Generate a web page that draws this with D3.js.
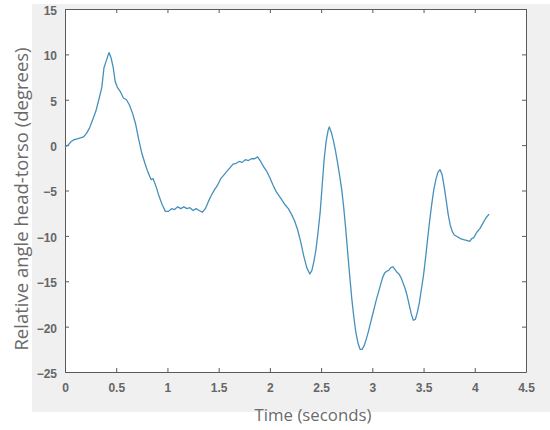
<!DOCTYPE html>
<html>
<head>
<meta charset="utf-8">
<script src="https://cdn.jsdelivr.net/npm/d3@7"></script>
<style>
  html, body { margin: 0; padding: 0; background: #ffffff; }
  svg { display: block; }
</style>
</head>
<body>
<svg id="chart" width="550" height="430"></svg>
<script>
const timeSec = [0.00,0.03,0.06,0.09,0.12,0.15,0.18,0.21,0.24,0.27,0.30,0.33,0.36,0.38,0.40,0.43,0.45,0.47,0.49,0.51,0.54,0.57,0.60,0.63,0.66,0.69,0.72,0.75,0.78,0.81,0.84,0.86,0.89,0.92,0.95,0.98,1.01,1.04,1.07,1.10,1.13,1.16,1.19,1.22,1.25,1.28,1.31,1.34,1.37,1.40,1.43,1.46,1.49,1.52,1.55,1.58,1.61,1.64,1.67,1.70,1.73,1.76,1.79,1.82,1.85,1.88,1.91,1.94,1.97,2.00,2.03,2.06,2.09,2.12,2.15,2.18,2.21,2.24,2.27,2.30,2.33,2.36,2.39,2.41,2.43,2.45,2.47,2.49,2.51,2.53,2.55,2.57,2.58,2.60,2.62,2.64,2.66,2.68,2.70,2.72,2.74,2.76,2.78,2.80,2.82,2.84,2.86,2.88,2.90,2.92,2.94,2.96,2.98,3.00,3.02,3.04,3.06,3.08,3.10,3.12,3.14,3.16,3.18,3.20,3.22,3.24,3.26,3.28,3.30,3.32,3.34,3.36,3.38,3.40,3.42,3.44,3.46,3.48,3.50,3.52,3.54,3.56,3.58,3.60,3.62,3.64,3.66,3.68,3.70,3.72,3.74,3.76,3.78,3.80,3.83,3.86,3.89,3.92,3.95,3.97,3.99,4.02,4.05,4.08,4.11,4.14];
const angleDeg = [-0.2,0.0,0.4,0.6,0.7,0.8,0.9,1.3,1.9,2.8,3.7,5.0,6.4,8.5,9.2,10.2,9.6,8.6,7.0,6.4,5.9,5.2,5.0,4.4,3.5,2.3,0.6,-0.9,-2.0,-3.0,-3.8,-3.7,-4.6,-5.7,-6.6,-7.3,-7.3,-7.0,-7.1,-6.8,-7.0,-6.8,-7.0,-6.9,-7.2,-7.0,-7.2,-7.4,-7.0,-6.2,-5.5,-4.9,-4.4,-3.7,-3.3,-2.9,-2.5,-2.1,-2.0,-1.8,-1.9,-1.6,-1.7,-1.5,-1.5,-1.3,-1.8,-2.4,-2.9,-3.6,-4.4,-5.1,-5.6,-6.1,-6.6,-7.0,-7.6,-8.3,-9.3,-10.6,-12.2,-13.5,-14.2,-13.8,-12.8,-11.5,-9.6,-7.5,-4.5,-1.5,0.5,1.7,2.0,1.4,0.5,-0.6,-1.9,-3.3,-4.8,-6.8,-9.2,-11.9,-14.5,-17.0,-19.0,-20.7,-21.8,-22.5,-22.5,-22.1,-21.4,-20.6,-19.7,-18.8,-17.9,-17.0,-16.2,-15.4,-14.6,-14.1,-13.9,-13.8,-13.5,-13.4,-13.7,-14.0,-14.2,-14.6,-15.2,-15.8,-16.6,-17.6,-18.6,-19.3,-19.2,-18.4,-17.3,-15.8,-14.3,-12.4,-10.3,-8.3,-6.5,-4.9,-3.8,-3.0,-2.7,-3.2,-4.5,-6.0,-7.6,-8.8,-9.5,-9.9,-10.1,-10.3,-10.4,-10.5,-10.6,-10.3,-10.2,-9.6,-9.2,-8.6,-8.0,-7.6];
const xTicks = [0,0.5,1,1.5,2,2.5,3,3.5,4,4.5];
const yTicks = [-25,-20,-15,-10,-5,0,5,10,15];
const xLabel = "Time (seconds)";
const yLabel = "Relative angle head-torso (degrees)";

const svg = d3.select("#chart");
const L = 65, R = 526, T = 9, B = 372;

svg.append("rect").attr("x", 32).attr("y", 4).attr("width", 518).attr("height", 408).attr("fill", "#f0f0f0");
svg.append("rect").attr("x", L).attr("y", T).attr("width", R - L).attr("height", B - T).attr("fill", "#ffffff");

const x = d3.scaleLinear().domain([0, 4.5]).range([L, R]);
const y = d3.scaleLinear().domain([-25, 15]).range([B, T]);

const axisColor = "#5a5a5a";
const tickFont = "'Liberation Sans', Arial, sans-serif";

function styleAxis(g, showText) {
  g.select(".domain").attr("stroke", axisColor).attr("stroke-width", 1);
  g.selectAll(".tick line").attr("stroke", axisColor);
  g.selectAll(".tick text").attr("fill", "#666666").attr("font-family", tickFont)
    .attr("font-size", 12).attr("font-weight", "bold").style("display", showText ? null : "none");
}

const xb = svg.append("g").attr("transform", `translate(0,${B})`)
  .call(d3.axisBottom(x).tickValues(xTicks).tickSize(-4).tickPadding(11).tickFormat(d3.format("")).tickSizeOuter(0));
styleAxis(xb, true);
const xt = svg.append("g").attr("transform", `translate(0,${T})`)
  .call(d3.axisTop(x).tickValues(xTicks).tickSize(-4).tickFormat("").tickSizeOuter(0));
styleAxis(xt, false);
const yl = svg.append("g").attr("transform", `translate(${L},0)`)
  .call(d3.axisLeft(y).tickValues(yTicks).tickSize(-4).tickPadding(8).tickFormat(d3.format("")).tickSizeOuter(0));
styleAxis(yl, true);
yl.selectAll(".tick text").attr("dy", "0.45em");
const yr = svg.append("g").attr("transform", `translate(${R},0)`)
  .call(d3.axisRight(y).tickValues(yTicks).tickSize(-4).tickFormat("").tickSizeOuter(0));
styleAxis(yr, false);

const pts = timeSec.map((t, i) => [t, angleDeg[i]]);
svg.append("path").datum(pts)
  .attr("fill", "none").attr("stroke", "#4690bc").attr("stroke-width", 1.3)
  .attr("stroke-linejoin", "round")
  .attr("d", d3.line().x(d => x(d[0])).y(d => y(d[1])));

svg.append("text").attr("x", 313).attr("y", 421).attr("text-anchor", "middle")
  .attr("font-family", "'Open Sans', sans-serif").attr("font-size", 16.8).attr("fill", "#6a6a6a")
  .text(xLabel);
svg.append("text").attr("transform", "translate(28,199) rotate(-90)").attr("text-anchor", "middle")
  .attr("font-family", "'Open Sans', sans-serif").attr("font-size", 18.5).attr("fill", "#6a6a6a")
  .text(yLabel);
</script>
</body>
</html>
